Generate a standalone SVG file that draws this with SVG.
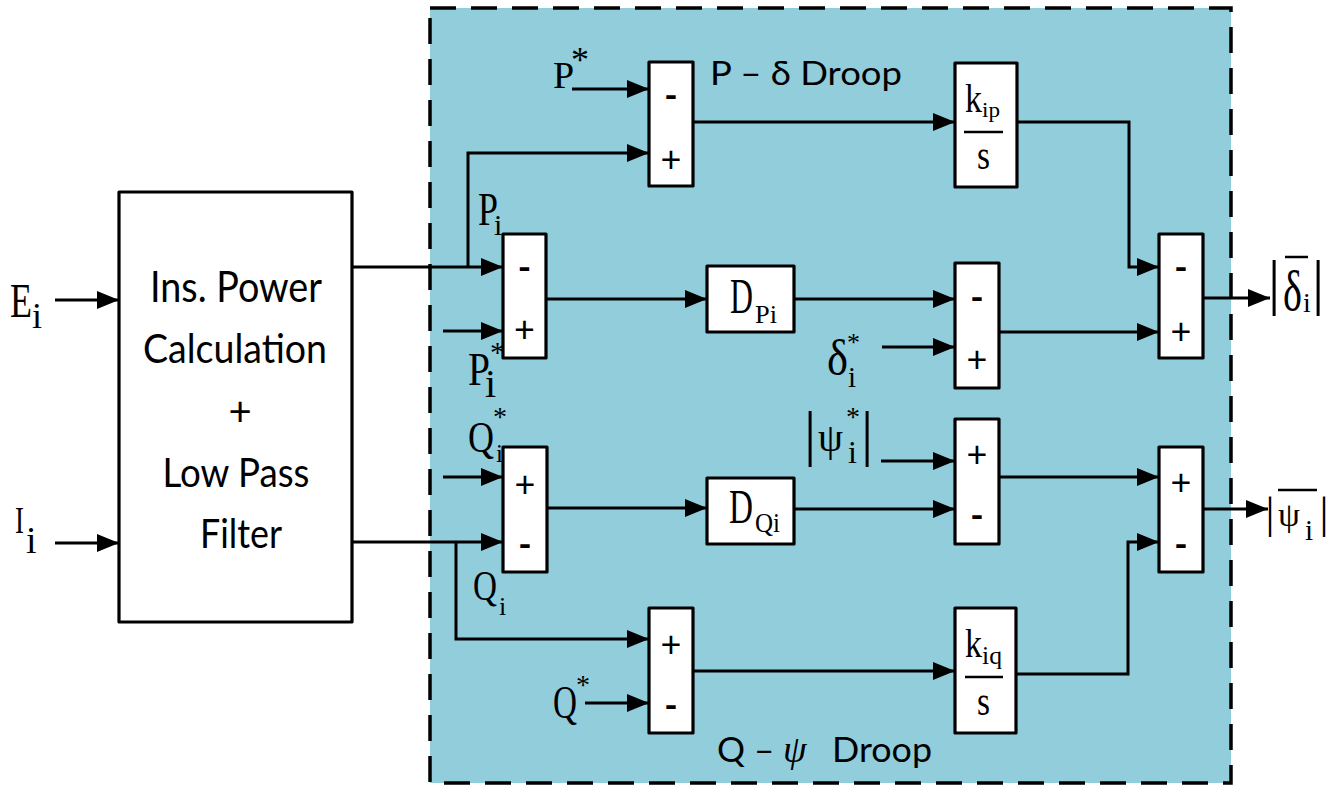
<svg xmlns="http://www.w3.org/2000/svg" width="1337" height="786" viewBox="0 0 1337 786">
<style>
.blk{fill:#fff;stroke:#000;stroke-width:3.2;stroke-linejoin:round}
.ln{fill:none;stroke:#000;stroke-width:3;stroke-linejoin:miter}
.arr{marker-end:url(#ah)}
.thin{stroke:#000;stroke-width:2.5}
.serif{font-family:"Liberation Serif","Times New Roman",serif;fill:#000}
.sans{font-family:Lato,"Liberation Sans",sans-serif;fill:#000}
.plus{font-family:Lato,"Liberation Sans",sans-serif;font-size:36px;text-anchor:middle}
.minus{font-family:Lato,"Liberation Sans",sans-serif;font-size:36px;font-weight:bold;text-anchor:middle}
</style>
<defs>
<marker id="ah" markerUnits="userSpaceOnUse" viewBox="0 0 22 18" refX="22" refY="9" markerWidth="22" markerHeight="18" orient="auto">
<path d="M0,0 L22,9 L0,18 Z" fill="#000"/>
</marker>
</defs>
<rect width="1337" height="786" fill="#fff"/>
<g id="droop-region">
<rect x="430" y="8" width="801" height="775" fill="#92CDDC" stroke="#000" stroke-width="3.5" stroke-dasharray="26 15"/>
</g>
<g id="connectors">
<path class="ln arr" d="M55,300 H119"/>
<path class="ln arr" d="M55,543 H119"/>
<path class="ln arr" d="M352,267 H503"/>
<path class="ln arr" d="M468,267 V153 H649"/>
<path class="ln arr" d="M572,89 H649"/>
<path class="ln arr" d="M443,331 H503"/>
<path class="ln arr" d="M693,122 H955"/>
<path class="ln arr" d="M1017,122 H1129 V267 H1159"/>
<path class="ln arr" d="M546,299 H707"/>
<path class="ln arr" d="M794,299 H955"/>
<path class="ln arr" d="M882,347 H955"/>
<path class="ln arr" d="M999,332 H1159"/>
<path class="ln arr" d="M1203,298 H1270"/>
<path class="ln arr" d="M352,542 H503"/>
<path class="ln arr" d="M443,477 H503"/>
<path class="ln arr" d="M456,542 V639 H649"/>
<path class="ln arr" d="M585,703 H649"/>
<path class="ln arr" d="M547,508 H707"/>
<path class="ln arr" d="M794,509 H955"/>
<path class="ln arr" d="M881,461 H955"/>
<path class="ln arr" d="M999,477 H1159"/>
<path class="ln arr" d="M693,671 H955"/>
<path class="ln arr" d="M1016,674 H1128 V542 H1159"/>
<path class="ln arr" d="M1203,509 H1268"/>
</g>
<g id="input-E">
<text class="serif"><tspan x="10" y="317" font-size="48" textLength="22" lengthAdjust="spacingAndGlyphs">E</tspan><tspan x="32" y="328" font-size="36">i</tspan></text>
</g>
<g id="input-I">
<text class="serif"><tspan x="15" y="533" font-size="38" textLength="9" lengthAdjust="spacingAndGlyphs">I</tspan><tspan x="26" y="553" font-size="38">i</tspan></text>
</g>
<g id="power-calc">
<rect class="blk" x="119" y="192" width="233" height="430"/>
<text class="sans" x="236" y="302" font-size="43" text-anchor="middle" textLength="172" lengthAdjust="spacingAndGlyphs">Ins. Power</text>
<text class="sans" x="235" y="363" font-size="41" text-anchor="middle" textLength="184" lengthAdjust="spacingAndGlyphs">Calculation</text>
<text class="sans" x="240" y="426" font-size="40" text-anchor="middle">+</text>
<text class="sans" x="236" y="487" font-size="40" text-anchor="middle" textLength="147" lengthAdjust="spacingAndGlyphs">Low Pass</text>
<text class="sans" x="241" y="548" font-size="40" text-anchor="middle" textLength="82" lengthAdjust="spacingAndGlyphs">Filter</text>
</g>
<g id="label-Pstar">
<text class="serif"><tspan x="553" y="88" font-size="38">P</tspan><tspan x="571" y="72" font-size="36">*</tspan></text>
</g>
<g id="label-Pi">
<text class="serif"><tspan x="478" y="225" font-size="46" textLength="20" lengthAdjust="spacingAndGlyphs">P</tspan><tspan x="494" y="235" font-size="30">i</tspan></text>
</g>
<g id="label-Pistar">
<text class="serif"><tspan x="468" y="385" font-size="46" textLength="22" lengthAdjust="spacingAndGlyphs">P</tspan><tspan x="485" y="397" font-size="40">i</tspan><tspan x="490" y="362" font-size="30">*</tspan></text>
</g>
<g id="label-Qistar">
<text class="serif"><tspan x="468" y="452" font-size="44" textLength="26" lengthAdjust="spacingAndGlyphs">Q</tspan><tspan x="496" y="462" font-size="25">i</tspan><tspan x="493" y="426" font-size="28">*</tspan></text>
</g>
<g id="label-Qi">
<text class="serif"><tspan x="473" y="600" font-size="42" textLength="24" lengthAdjust="spacingAndGlyphs">Q</tspan><tspan x="499" y="615" font-size="26">i</tspan></text>
</g>
<g id="label-Qstar">
<text class="serif"><tspan x="553" y="718" font-size="46" textLength="24" lengthAdjust="spacingAndGlyphs">Q</tspan><tspan x="576" y="694" font-size="28">*</tspan></text>
</g>
<g id="label-deltastar">
<text class="serif"><tspan x="827" y="375" font-size="50" textLength="21" lengthAdjust="spacingAndGlyphs">δ</tspan><tspan x="848" y="387" font-size="29">i</tspan><tspan x="847" y="351" font-size="26">*</tspan></text>
</g>
<g id="label-psistar">
<text class="serif"><tspan x="810" y="454" font-size="61" text-anchor="middle">|</tspan><tspan x="818" y="451" font-size="39" textLength="25" lengthAdjust="spacingAndGlyphs">ψ</tspan><tspan x="848" y="463" font-size="32">i</tspan><tspan x="846" y="426" font-size="28">*</tspan><tspan x="867" y="454" font-size="61" text-anchor="middle">|</tspan></text>
</g>
<g id="title-P-delta">
<text class="sans" x="710" y="85" font-size="32" textLength="192" lengthAdjust="spacingAndGlyphs">P – δ Droop</text>
</g>
<g id="title-Q-psi">
<text class="sans" font-size="35"><tspan x="717" y="762">Q –</tspan><tspan x="783" y="762" class="serif" font-style="italic" font-size="38">ψ</tspan><tspan x="832" y="762" textLength="100" lengthAdjust="spacingAndGlyphs">Droop</tspan></text>
</g>
<g id="sum-P">
<rect class="blk" x="649" y="62" width="44" height="124"/>
<text class="minus" x="671" y="108">-</text>
<text class="plus" x="671" y="172">+</text>
</g>
<g id="sum-Pi">
<rect class="blk" x="503" y="234" width="43" height="124"/>
<text class="minus" x="524.5" y="280">-</text>
<text class="plus" x="524.5" y="342">+</text>
</g>
<g id="kip">
<rect class="blk" x="955" y="63" width="62" height="124"/>
<text class="serif"><tspan x="965" y="112" font-size="40" textLength="17" lengthAdjust="spacingAndGlyphs">k</tspan><tspan x="982" y="117" font-size="22" textLength="18" lengthAdjust="spacingAndGlyphs">ip</tspan></text>
<line class="thin" x1="964" y1="132" x2="1003" y2="132"/>
<text class="serif" x="977" y="169" font-size="42" textLength="13" lengthAdjust="spacingAndGlyphs">s</text>
</g>
<g id="DPi">
<rect class="blk" x="707" y="266" width="87" height="66"/>
<text class="serif"><tspan x="730" y="313" font-size="50" textLength="23" lengthAdjust="spacingAndGlyphs">D</tspan><tspan x="755" y="323" font-size="26" textLength="22" lengthAdjust="spacingAndGlyphs">Pi</tspan></text>
</g>
<g id="sum-delta">
<rect class="blk" x="955" y="263" width="44" height="125"/>
<text class="minus" x="977" y="310">-</text>
<text class="plus" x="977" y="372">+</text>
</g>
<g id="sum-delta-out">
<rect class="blk" x="1159" y="234" width="44" height="124"/>
<text class="minus" x="1181" y="280">-</text>
<text class="plus" x="1181" y="344">+</text>
</g>
<g id="output-delta">
<text class="serif"><tspan x="1274" y="303" font-size="61" text-anchor="middle">|</tspan><tspan x="1283" y="310" font-size="56" textLength="19" lengthAdjust="spacingAndGlyphs">δ</tspan><tspan x="1303" y="312" font-size="28">i</tspan><tspan x="1318" y="303" font-size="61" text-anchor="middle">|</tspan></text>
<line class="thin" x1="1285" y1="257" x2="1308" y2="257"/>
</g>
<g id="sum-Qi">
<rect class="blk" x="503" y="447" width="44" height="125"/>
<text class="plus" x="525" y="497">+</text>
<text class="minus" x="525" y="557">-</text>
</g>
<g id="DQi">
<rect class="blk" x="707" y="478" width="87" height="66"/>
<text class="serif"><tspan x="729" y="523" font-size="48" textLength="24" lengthAdjust="spacingAndGlyphs">D</tspan><tspan x="755" y="532" font-size="28" textLength="25" lengthAdjust="spacingAndGlyphs">Qi</tspan></text>
</g>
<g id="sum-psi">
<rect class="blk" x="955" y="419" width="44" height="125"/>
<text class="plus" x="977" y="467">+</text>
<text class="minus" x="977" y="528">-</text>
</g>
<g id="sum-Q">
<rect class="blk" x="649" y="608" width="44" height="125"/>
<text class="plus" x="671" y="657">+</text>
<text class="minus" x="671" y="718">-</text>
</g>
<g id="kiq">
<rect class="blk" x="955" y="608" width="61" height="125"/>
<text class="serif"><tspan x="965" y="657" font-size="40" textLength="17" lengthAdjust="spacingAndGlyphs">k</tspan><tspan x="982" y="664" font-size="25" textLength="20" lengthAdjust="spacingAndGlyphs">iq</tspan></text>
<line class="thin" x1="965" y1="677" x2="1003" y2="677"/>
<text class="serif" x="977" y="715" font-size="42" textLength="13" lengthAdjust="spacingAndGlyphs">s</text>
</g>
<g id="sum-psi-out">
<rect class="blk" x="1159" y="447" width="44" height="125"/>
<text class="plus" x="1181" y="495">+</text>
<text class="minus" x="1181" y="557">-</text>
</g>
<g id="output-psi">
<text class="serif"><tspan x="1270" y="528" font-size="45" text-anchor="middle">|</tspan><tspan x="1278" y="526" font-size="34" textLength="22" lengthAdjust="spacingAndGlyphs">ψ</tspan><tspan x="1305" y="540" font-size="29">i</tspan><tspan x="1324" y="528" font-size="45" text-anchor="middle">|</tspan></text>
<line class="thin" x1="1278" y1="490" x2="1317" y2="490"/>
</g>
</svg>
